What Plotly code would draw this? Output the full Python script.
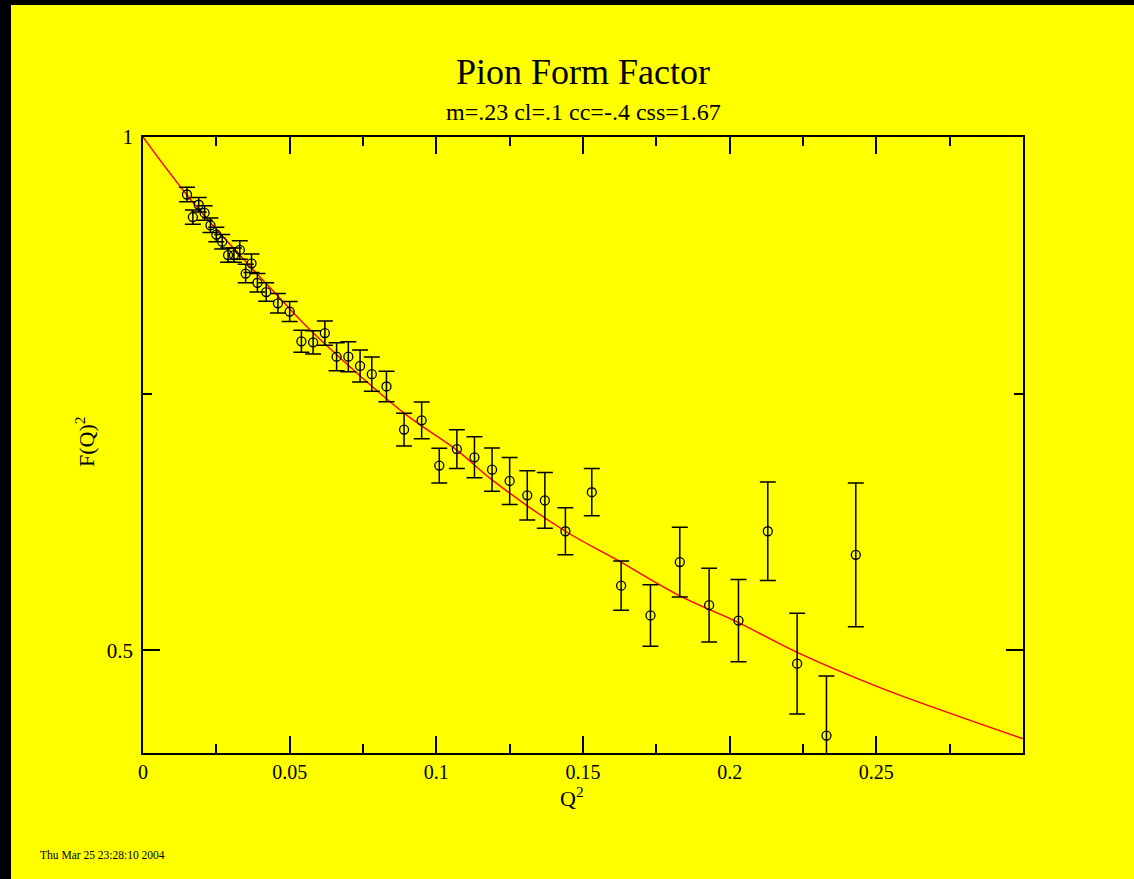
import plotly.graph_objects as go

# ---- data ----
q2 = [0.015, 0.017, 0.019, 0.021, 0.023, 0.025, 0.027, 0.029, 0.031, 0.033,
      0.035, 0.037, 0.039, 0.042, 0.046, 0.050, 0.054, 0.058, 0.062, 0.066,
      0.070, 0.074, 0.078, 0.083, 0.089, 0.095, 0.101, 0.107, 0.113, 0.119,
      0.125, 0.131, 0.137, 0.144, 0.153, 0.163, 0.173, 0.183, 0.193, 0.203,
      0.213, 0.223, 0.233, 0.243]
ff = [0.944, 0.922, 0.934, 0.926, 0.914, 0.905, 0.898, 0.885, 0.885, 0.890,
      0.867, 0.877, 0.858, 0.849, 0.838, 0.830, 0.801, 0.800, 0.809, 0.786,
      0.786, 0.777, 0.769, 0.757, 0.715, 0.724, 0.680, 0.696, 0.688, 0.676,
      0.665, 0.651, 0.646, 0.616, 0.654, 0.563, 0.534, 0.586, 0.544, 0.529,
      0.616, 0.487, 0.417, 0.593]
dff = [0.007, 0.007, 0.007, 0.007, 0.007, 0.007, 0.007, 0.007, 0.007, 0.009,
       0.009, 0.009, 0.009, 0.009, 0.0095, 0.0098, 0.0107, 0.0114, 0.0119, 0.0137,
       0.0146, 0.0156, 0.0166, 0.0149, 0.0159, 0.018, 0.0169, 0.0188, 0.020, 0.021,
       0.0229, 0.024, 0.0271, 0.0229, 0.023, 0.024, 0.030, 0.034, 0.0359, 0.040,
       0.048, 0.049, 0.058, 0.070]

curve_q2 = [0.0, 0.018, 0.047, 0.057, 0.089, 0.107, 0.119, 0.144, 0.161,
            0.183, 0.203, 0.223, 0.251, 0.300]
curve_f = [1.000, 0.933, 0.842, 0.812, 0.731, 0.695, 0.666, 0.616, 0.589,
           0.553, 0.527, 0.498, 0.464, 0.414]

x_tickvals = [0, 0.05, 0.1, 0.15, 0.2, 0.25]
x_ticktext = ["0", "0.05", "0.1", "0.15", "0.2", "0.25"]
y_tickvals = [0.5, 1.0]
y_ticktext = ["0.5", "1"]

title_text = "Pion Form Factor"
subtitle_text = "m=.23 cl=.1 cc=-.4 css=1.67"
date_text = "Thu Mar 25 23:28:10 2004"

# ---- layout geometry ----
W, H = 1134, 879
L, R, T, B = 143, 111, 137, 126
PW = W - L - R
PH = H - T - B


def px(x):
    return (x - L) / PW


def py(y):
    return (H - B - y) / PH


SERIF = "Liberation Serif, Times New Roman, serif"
YELLOW = "#ffff00"

fig = go.Figure()

fig.add_trace(go.Scatter(
    x=curve_q2, y=curve_f, mode="lines",
    line=dict(color="#ff0000", width=1.4, shape="spline", smoothing=1.0),
    hoverinfo="skip", showlegend=False,
))

fig.add_trace(go.Scatter(
    x=q2, y=ff, mode="markers",
    marker=dict(symbol="circle-open", size=9, color="black",
                line=dict(color="black", width=1.3)),
    error_y=dict(type="data", array=dff, visible=True, color="black",
                 thickness=1.5, width=8),
    showlegend=False,
))

axis_common = dict(
    showgrid=False, zeroline=False, showline=True, linecolor="black",
    linewidth=1.5, mirror="ticks", ticks="inside", ticklen=17, tickwidth=1.5,
    tickcolor="black",
)

fig.update_xaxes(
    range=[0, 0.3], tickmode="array", tickvals=x_tickvals, ticktext=x_ticktext,
    tickfont=dict(family=SERIF, size=20, color="black"),
    minor=dict(ticks="inside", ticklen=9, tickwidth=1.5, tickcolor="black",
               tick0=0, dtick=0.025, showgrid=False),
    **axis_common,
)
fig.update_yaxes(
    range=[0.4, 1.0], tickmode="array", tickvals=y_tickvals, ticktext=y_ticktext,
    tickfont=dict(family=SERIF, size=21, color="black"), ticklabelstandoff=4,
    minor=dict(ticks="inside", ticklen=9, tickwidth=1.5, tickcolor="black",
               tick0=0, dtick=0.25, showgrid=False),
    **axis_common,
)

annotations = [
    dict(text=title_text, x=px(583), y=py(72), font=dict(family=SERIF, size=36, color="black")),
    dict(text=subtitle_text, x=px(583), y=py(112), font=dict(family=SERIF, size=24, color="black")),
    dict(text="Q<sup>2</sup>", x=px(572), y=py(797), font=dict(family=SERIF, size=22, color="black")),
    dict(text="F(Q)<sup>2</sup>", x=px(85), y=py(442), textangle=-90,
         font=dict(family=SERIF, size=22, color="black")),
    dict(text=date_text, x=px(38), y=py(855), xanchor="left",
         font=dict(family=SERIF, size=11.5, color="black")),
]
for a in annotations:
    a.setdefault("xanchor", "center")
    a.update(xref="paper", yref="paper", yanchor="middle", showarrow=False)

shapes = [
    dict(type="rect", xref="paper", yref="paper", x0=px(0), x1=px(W), y0=py(0), y1=py(5),
         fillcolor="black", line=dict(width=0), layer="above"),
    dict(type="rect", xref="paper", yref="paper", x0=px(0), x1=px(11), y0=py(0), y1=py(H),
         fillcolor="black", line=dict(width=0), layer="above"),
]

fig.update_layout(
    width=W, height=H,
    margin=dict(l=L, r=R, t=T, b=B, pad=0, autoexpand=False),
    paper_bgcolor=YELLOW, plot_bgcolor=YELLOW,
    annotations=annotations, shapes=shapes,
    showlegend=False,
)

fig.write_html("out.html", config={"displayModeBar": False},
               post_script="document.body.style.margin='0';document.body.style.padding='0';document.body.style.background='#ffff00';")
